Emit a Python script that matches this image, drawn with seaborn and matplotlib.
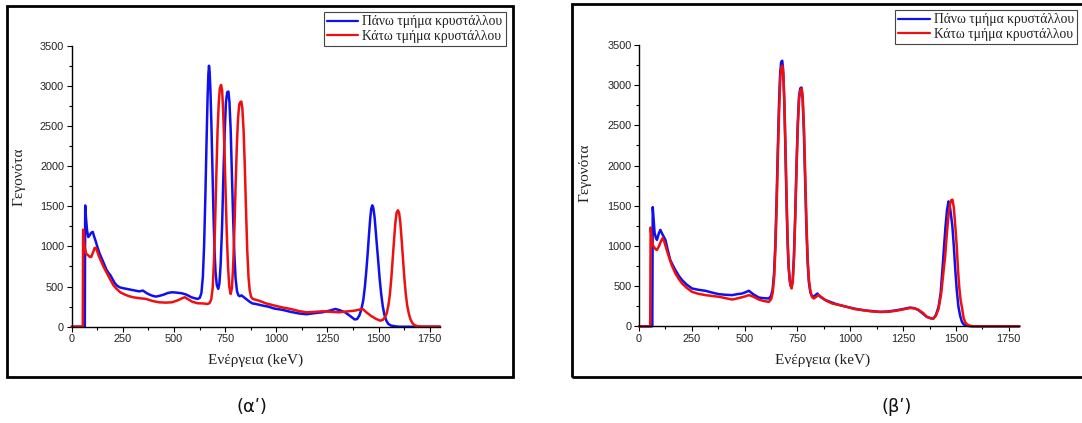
import numpy as np
import pandas as pd
import matplotlib
matplotlib.use("Agg")
import matplotlib.pyplot as plt
from matplotlib.patches import Rectangle
from matplotlib.ticker import MultipleLocator
import seaborn as sns

# Gamma spectra (energy in keV, counts) for the upper and lower crystal halves
series_names = ["Πάνω τμήμα κρυστάλλου", "Κάτω τμήμα κρυστάλλου"]
series_colors = ["#1010ee", "#ee1010"]

# (α') – uncalibrated halves
spec_a_upper = [(0, 0), (64, 0), (66, 1510), (70, 1350), (75, 1200), (81, 1117), (88, 1140), (95, 1170),
    (103, 1180), (110, 1120), (118, 1060), (126, 990), (135, 920), (145, 860), (158, 783), (170, 710),
    (180, 670), (190, 637), (200, 590), (210, 545), (221, 512), (235, 490), (250, 480), (269, 471),
    (290, 460), (310, 450), (330, 440), (348, 450), (365, 420), (380, 400), (395, 385), (411, 375),
    (430, 385), (450, 400), (470, 420), (490, 429), (510, 425), (537, 417), (560, 400), (585, 367),
    (600, 355), (616, 346), (626, 360), (634, 420), (641, 620), (647, 1000), (653, 1600), (659, 2300),
    (664, 2850), (668, 3150), (671, 3250), (674, 3180), (678, 2950), (683, 2500), (688, 1950), (693, 1400),
    (698, 950), (703, 680), (709, 520), (716, 471), (722, 540), (728, 780), (735, 1250), (741, 1850),
    (748, 2450), (754, 2800), (760, 2920), (766, 2929), (771, 2800), (777, 2450), (783, 1900), (789, 1350),
    (795, 900), (801, 600), (808, 440), (815, 390), (821, 380), (830, 390), (840, 370), (855, 340),
    (870, 310), (883, 290), (900, 283), (930, 265), (960, 250), (992, 225), (1030, 210), (1070, 185),
    (1110, 165), (1148, 155), (1190, 170), (1227, 180), (1260, 200), (1289, 221), (1310, 205), (1336, 179),
    (1360, 135), (1383, 90), (1395, 95), (1406, 140), (1416, 220), (1425, 330), (1433, 500), (1440, 700),
    (1447, 930), (1453, 1150), (1459, 1350), (1464, 1470), (1469, 1512), (1474, 1480), (1480, 1370),
    (1486, 1190), (1492, 1000), (1498, 820), (1505, 600), (1512, 420), (1520, 260), (1528, 150),
    (1537, 80), (1547, 35), (1560, 15), (1580, 5), (1600, 0), (1800, 0)]

spec_a_lower = [(0, 0), (54, 0), (56, 1208), (62, 1000), (71, 908), (80, 890), (88, 870), (95, 867),
    (105, 930), (112, 980), (118, 983), (126, 930), (134, 870), (142, 825), (155, 750), (165, 700),
    (174, 658), (190, 580), (205, 512), (220, 470), (237, 429), (260, 400), (280, 380), (300, 367),
    (330, 355), (363, 346), (395, 320), (427, 304), (460, 300), (490, 304), (520, 330), (540, 355),
    (553, 367), (570, 340), (590, 310), (616, 292), (640, 290), (664, 283), (674, 295), (682, 340),
    (689, 480), (695, 800), (701, 1300), (707, 1900), (713, 2450), (719, 2800), (724, 2970), (730, 3012),
    (735, 2950), (740, 2700), (746, 2250), (752, 1700), (758, 1150), (764, 750), (770, 500), (777, 408),
    (783, 480), (789, 750), (795, 1200), (801, 1750), (807, 2250), (813, 2600), (819, 2770), (825, 2800),
    (829, 2804), (834, 2720), (840, 2450), (846, 2000), (852, 1450), (858, 950), (864, 620), (870, 450),
    (877, 370), (885, 346), (900, 335), (914, 325), (950, 290), (992, 263), (1030, 240), (1070, 221),
    (1110, 195), (1148, 179), (1190, 185), (1227, 192), (1270, 185), (1305, 179), (1345, 190), (1383, 200),
    (1400, 210), (1422, 221), (1440, 180), (1461, 138), (1485, 100), (1508, 75), (1520, 85), (1531, 117),
    (1540, 170), (1548, 270), (1555, 400), (1562, 600), (1569, 850), (1576, 1100), (1582, 1300),
    (1588, 1420), (1594, 1450), (1600, 1420), (1606, 1300), (1612, 1100), (1619, 850), (1626, 600),
    (1633, 400), (1640, 260), (1648, 158), (1656, 90), (1665, 45), (1675, 20), (1690, 6), (1710, 0),
    (1800, 0)]

# (β') – halves after gain matching
spec_b_upper = [(0, 0), (63, 0), (65, 1483), (70, 1300), (74, 1158), (80, 1100), (85, 1075), (93, 1150),
    (101, 1200), (110, 1150), (118, 1110), (125, 1075), (136, 950), (148, 825), (160, 760), (172, 700),
    (188, 630), (204, 575), (225, 520), (251, 471), (280, 455), (314, 442), (345, 420), (378, 400),
    (410, 392), (441, 388), (465, 400), (488, 408), (505, 425), (520, 442), (540, 400), (567, 358),
    (590, 350), (615, 346), (625, 380), (632, 450), (639, 650), (645, 1000), (651, 1550), (657, 2200),
    (663, 2800), (668, 3150), (673, 3290), (678, 3304), (682, 3200), (687, 2850), (692, 2300), (697, 1700),
    (702, 1150), (707, 780), (713, 580), (718, 500), (722, 492), (727, 560), (733, 850), (739, 1350),
    (745, 1950), (751, 2500), (757, 2850), (763, 2960), (769, 2971), (774, 2850), (780, 2450), (786, 1850),
    (792, 1250), (798, 800), (804, 550), (811, 420), (820, 367), (832, 380), (844, 408), (858, 367),
    (880, 330), (905, 304), (940, 270), (983, 242), (1020, 220), (1062, 200), (1100, 190), (1141, 179),
    (1180, 185), (1220, 200), (1250, 215), (1283, 233), (1305, 225), (1323, 200), (1345, 155), (1362, 117),
    (1380, 100), (1394, 96), (1405, 140), (1418, 242), (1428, 420), (1436, 700), (1444, 1000), (1451, 1250),
    (1458, 1450), (1465, 1554), (1471, 1500), (1477, 1380), (1483, 1250), (1490, 1000), (1497, 700),
    (1504, 450), (1512, 242), (1520, 130), (1528, 60), (1536, 25), (1550, 8), (1570, 0), (1800, 0)]

spec_b_lower = [(0, 0), (53, 0), (55, 1229), (60, 1100), (65, 1012), (70, 990), (78, 960), (85, 950),
    (95, 1000), (104, 1060), (112, 1096), (120, 1050), (130, 960), (141, 867), (155, 760), (172, 658),
    (188, 590), (204, 533), (225, 480), (251, 429), (280, 405), (314, 388), (345, 378), (378, 367),
    (410, 350), (441, 333), (470, 350), (500, 370), (520, 388), (540, 370), (567, 333), (590, 315),
    (615, 304), (626, 340), (633, 420), (640, 620), (646, 1000), (652, 1550), (658, 2200), (664, 2750),
    (669, 3100), (674, 3230), (679, 3242), (684, 3100), (689, 2700), (694, 2150), (699, 1550), (704, 1050),
    (709, 720), (715, 540), (722, 471), (728, 560), (734, 880), (740, 1400), (746, 2000), (752, 2500),
    (758, 2830), (764, 2940), (770, 2958), (775, 2850), (781, 2450), (787, 1850), (793, 1250), (799, 800),
    (805, 560), (812, 430), (820, 360), (828, 346), (840, 370), (851, 388), (865, 360), (885, 320),
    (915, 283), (950, 265), (983, 242), (1020, 215), (1062, 200), (1100, 185), (1141, 179), (1180, 180),
    (1220, 195), (1250, 210), (1283, 228), (1305, 222), (1323, 205), (1345, 165), (1362, 120), (1380, 100),
    (1394, 100), (1405, 130), (1418, 220), (1430, 400), (1440, 650), (1449, 867), (1457, 1150),
    (1465, 1380), (1472, 1520), (1478, 1570), (1484, 1575), (1490, 1480), (1497, 1250), (1504, 992),
    (1510, 700), (1516, 480), (1522, 330), (1528, 242), (1536, 110), (1544, 50), (1552, 25), (1565, 8),
    (1585, 0), (1800, 0)]

x_ticks = [0, 250, 500, 750, 1000, 1250, 1500, 1750]
y_ticks = [0, 500, 1000, 1500, 2000, 2500, 3000, 3500]
x_label = "Ενέργεια (keV)"
y_label = "Γεγονότα"
captions = ["(αʹ)", "(βʹ)"]

sns.set_theme(style="ticks")
plt.rcParams["font.family"] = ["Liberation Serif", "DejaVu Serif"]

W, H = 1082, 423
fig = plt.figure(figsize=(W / 100, H / 100), dpi=100)
fig.patch.set_facecolor("white")


def frame(x0, y0, x1, y1):
    """Black border around a sub-figure, given in pixel coordinates (top-left origin)."""
    fig.patches.append(Rectangle((x0 / W, 1 - y1 / H), (x1 - x0) / W, (y1 - y0) / H,
                                 transform=fig.transFigure, fill=False,
                                 edgecolor="black", linewidth=2.0, zorder=0))


def to_frame(upper, lower):
    rows = []
    for name, spec in zip(series_names, [upper, lower]):
        for e, c in spec:
            rows.append({"Ενέργεια": e, "Γεγονότα": c, "Τμήμα": name})
    return pd.DataFrame(rows)


def panel(rect_px, upper, lower, xlab_pos, ylab_pos, legend_anchor, legend_loc):
    x0, x1, ytop, ybot = rect_px
    ax = fig.add_axes([x0 / W, 1 - ybot / H, (x1 - x0) / W, (ybot - ytop) / H])
    df = to_frame(upper, lower)
    sns.lineplot(data=df, x="Ενέργεια", y="Γεγονότα", hue="Τμήμα", hue_order=series_names,
                 palette=series_colors, estimator=None, sort=False, linewidth=1.8,
                 legend=False, ax=ax)
    for ln in ax.lines:
        ln.set_clip_on(False)
    ax.set_xlim(0, 1800)
    ax.set_ylim(0, 3500)
    ax.set_xticks(x_ticks)
    ax.set_yticks(y_ticks)
    ax.xaxis.set_minor_locator(MultipleLocator(125))
    ax.yaxis.set_minor_locator(MultipleLocator(250))
    sns.despine(ax=ax)
    for s in ["left", "bottom"]:
        ax.spines[s].set_linewidth(1.0)
        ax.spines[s].set_color("black")
    ax.tick_params(which="major", direction="out", length=3.5, width=0.8, color="black",
                   labelsize=7.8, labelcolor="#222222", pad=2)
    ax.tick_params(which="minor", direction="out", length=2.2, width=0.8, color="black")
    for lab in ax.get_xticklabels() + ax.get_yticklabels():
        lab.set_family(["Liberation Sans", "DejaVu Sans"])
    ax.set_xlabel(x_label, fontsize=11, color="#222222")
    ax.set_ylabel(y_label, fontsize=11, color="#222222")
    ax.xaxis.label.set_va("center")
    ax.yaxis.label.set_va("center")
    ax.xaxis.set_label_coords((xlab_pos[0] - x0) / (x1 - x0), (ybot - xlab_pos[1]) / (ybot - ytop))
    ax.yaxis.set_label_coords((ylab_pos[0] - x0) / (x1 - x0), (ybot - ylab_pos[1]) / (ybot - ytop))
    ax.set_facecolor("none")
    leg = fig.legend(ax.lines[:2], series_names, loc=legend_loc,
                     bbox_to_anchor=(legend_anchor[0] / W, 1 - legend_anchor[1] / H),
                     bbox_transform=fig.transFigure, fontsize=9.8, frameon=True,
                     fancybox=False, framealpha=1, edgecolor="#444444", borderpad=0.25,
                     labelspacing=0.12, handlelength=2.3, handletextpad=0.3, borderaxespad=0)
    leg.get_frame().set_linewidth(0.8)
    for h in leg.legend_handles:
        h.set_linewidth(1.6)
    for t in leg.get_texts():
        t.set_color("#222222")
    return ax


frame(7, 6, 513, 377)
frame(572, 4, 1095, 377)

panel((71.7, 440, 45.7, 326.7), spec_a_upper, spec_a_lower,
      (256, 360), (19, 177), (506, 12), "upper right")
panel((639, 1019.3, 45, 326.3), spec_b_upper, spec_b_lower,
      (823, 360), (585, 173), (895, 10), "upper left")

for cx, txt in zip([252, 897], captions):
    fig.text(cx / W, 1 - 407 / H, txt, ha="center", va="center", fontsize=13,
             family=["DejaVu Sans"], color="#111111")

fig.savefig("out.png", dpi=100, facecolor="white")
